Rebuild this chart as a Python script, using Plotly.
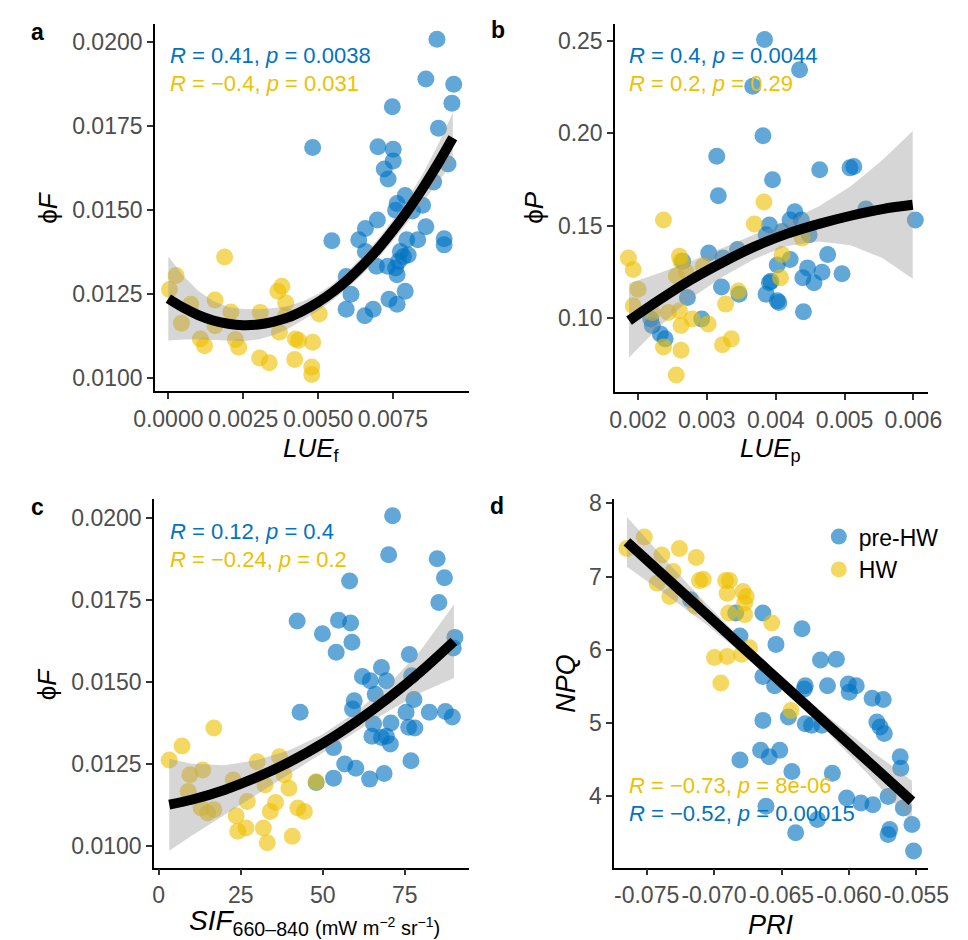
import plotly.graph_objects as go

BLUE = "#0073C2"
YELLOW = "#EFC000"
FONT = "Liberation Sans"
W, H = 968, 940

# ---------------- panel a : LUEf vs phiF ----------------
a_pre_x = [0.00897, 0.00860, 0.00953, 0.00947, 0.00748, 0.00902, 0.00482, 0.00700, 0.00751, 0.00751,
           0.00721, 0.00734, 0.00934, 0.00886, 0.00791, 0.00764, 0.00759, 0.00849, 0.00815, 0.00698,
           0.00658, 0.00636, 0.00546, 0.00860, 0.00921, 0.00921, 0.00833, 0.00796, 0.00658, 0.00775,
           0.00785, 0.00801, 0.00769, 0.00732, 0.00695, 0.00759, 0.00764, 0.00594, 0.00791, 0.00737,
           0.00764, 0.00610, 0.00594, 0.00684, 0.00656]
a_pre_y = [0.02007, 0.01889, 0.01873, 0.01817, 0.01806, 0.01742, 0.01685, 0.01687, 0.01680, 0.01645,
           0.01621, 0.01591, 0.01636, 0.01582, 0.01542, 0.01518, 0.01498, 0.01513, 0.01496, 0.01469,
           0.01444, 0.01410, 0.01407, 0.01449, 0.01413, 0.01395, 0.01410, 0.01410, 0.01375, 0.01375,
           0.01360, 0.01365, 0.01346, 0.01331, 0.01331, 0.01326, 0.01306, 0.01301, 0.01257, 0.01233,
           0.01218, 0.01248, 0.01203, 0.01203, 0.01184]
a_hw_x = [0.00188, 0.00026, 0.00004, 0.00075, 0.00156, 0.00044, 0.00209, 0.00156, 0.00107, 0.00121,
          0.00224, 0.00235, 0.00307, 0.00379, 0.00366, 0.00392, 0.00392, 0.00371, 0.00424, 0.00435,
          0.00482, 0.00305, 0.00337, 0.00422, 0.00479, 0.00479, 0.00504]
a_hw_y = [0.01359, 0.01304, 0.01262, 0.01218, 0.01231, 0.01162, 0.01195, 0.01154, 0.01115, 0.01095,
          0.01113, 0.01090, 0.01194, 0.01272, 0.01257, 0.01223, 0.01184, 0.01135, 0.01115, 0.01110,
          0.01105, 0.01058, 0.01044, 0.01054, 0.01031, 0.01009, 0.01189]
a_fit_x = [0.0000, 0.0005, 0.0010, 0.0015, 0.0020, 0.0025, 0.0030, 0.0035, 0.0040, 0.0045,
           0.0050, 0.0055, 0.0060, 0.0065, 0.0070, 0.0075, 0.0080, 0.0085, 0.0090, 0.0095]
a_fit_y = [0.01235, 0.01208, 0.01186, 0.01170, 0.01160, 0.01156, 0.01158, 0.01166, 0.01179, 0.01199,
           0.01224, 0.01255, 0.01292, 0.01335, 0.01383, 0.01438, 0.01498, 0.01564, 0.01636, 0.01714]
a_fit_se = [0.00125, 0.00095, 0.00072, 0.00058, 0.00050, 0.00048, 0.00045, 0.00040, 0.00034, 0.00028,
            0.00025, 0.00024, 0.00025, 0.00027, 0.00029, 0.00031, 0.00035, 0.00043, 0.00056, 0.00074]

# ---------------- panel b : LUEp vs phiP ----------------
b_pre_x = [0.003838, 0.004347, 0.003667, 0.003815, 0.003144, 0.003167, 0.004639, 0.005079, 0.005134, 0.003954,
           0.005310, 0.006028, 0.004278, 0.004209, 0.004371, 0.003908, 0.003861, 0.004093, 0.004486, 0.003028,
           0.003445, 0.003236, 0.004209, 0.004023, 0.004755, 0.004463, 0.004394, 0.004672, 0.004556, 0.004963,
           0.003931, 0.003908, 0.003861, 0.004023, 0.004046, 0.004403, 0.003213, 0.003468, 0.002648, 0.002718,
           0.002926, 0.002185, 0.002208, 0.002324, 0.002394]
b_pre_y = [0.2507, 0.2343, 0.2254, 0.1986, 0.1875, 0.1661, 0.1802, 0.1812, 0.1820, 0.1748,
           0.1589, 0.1530, 0.1575, 0.1530, 0.1530, 0.1503, 0.1450, 0.1468, 0.1450, 0.1352,
           0.1370, 0.1325, 0.1316, 0.1287, 0.1343, 0.1271, 0.1218, 0.1248, 0.1191, 0.1239,
           0.1199, 0.1191, 0.1129, 0.1093, 0.1084, 0.1034, 0.1168, 0.1129, 0.1307, 0.1111,
           0.0994, 0.0994, 0.0959, 0.0914, 0.0887]
b_hw_x = [0.002370, 0.001861, 0.001931, 0.002000, 0.001931, 0.002602, 0.002625, 0.002556, 0.002949, 0.002440,
          0.002602, 0.002625, 0.002787, 0.003019, 0.002370, 0.002625, 0.002556, 0.003227, 0.003357, 0.003273,
          0.003458, 0.003690, 0.003829, 0.004384, 0.004093, 0.004070, 0.002208, 0.002700]
b_hw_y = [0.1530, 0.1325, 0.1262, 0.1155, 0.1066, 0.1334, 0.1307, 0.1227, 0.1280, 0.1030,
          0.1039, 0.0959, 0.0994, 0.0968, 0.0843, 0.0825, 0.0691, 0.0855, 0.0887, 0.1075,
          0.1146, 0.1509, 0.1628, 0.1432, 0.1343, 0.1218, 0.1030, 0.1250]
b_fit_x = [0.00187, 0.00231, 0.00277, 0.00324, 0.00370, 0.00416, 0.00463, 0.00509, 0.00555, 0.00599]
b_fit_y = [0.0986, 0.1098, 0.1207, 0.1303, 0.1387, 0.1455, 0.1509, 0.1553, 0.1589, 0.1612]
b_fit_se = [0.0200, 0.0145, 0.0100, 0.0077, 0.0066, 0.0065, 0.0095, 0.0160, 0.0265, 0.0400]

# ---------------- panel c : SIF vs phiF ----------------
c_pre_x = [71.3, 70.1, 84.9, 87.1, 85.4, 58.2, 42.2, 54.8, 58.5, 49.9,
           54.1, 58.9, 90.3, 89.8, 76.4, 67.9, 62.1, 64.5, 69.4, 77.1,
           59.6, 59.1, 66.0, 43.1, 77.8, 75.4, 82.5, 87.4, 89.5, 70.8,
           65.5, 76.2, 78.1, 65.0, 67.9, 69.4, 70.6, 53.3, 76.9, 56.7,
           60.1, 53.3, 64.3, 68.7, 48.0]
c_pre_y = [0.02007, 0.01888, 0.01876, 0.01818, 0.01742, 0.01808, 0.01686, 0.01688, 0.01680, 0.01647,
           0.01591, 0.01621, 0.01636, 0.01604, 0.01584, 0.01544, 0.01517, 0.01504, 0.01504, 0.01519,
           0.01443, 0.01418, 0.01463, 0.01408, 0.01447, 0.01408, 0.01408, 0.01410, 0.01393, 0.01375,
           0.01372, 0.01362, 0.01360, 0.01335, 0.01331, 0.01335, 0.01311, 0.01300, 0.01260, 0.01250,
           0.01237, 0.01207, 0.01204, 0.01221, 0.01194]
c_hw_x = [3.2, 7.1, 9.5, 13.4, 9.0, 12.9, 14.9, 16.8, 16.8, 22.7,
          23.6, 24.1, 26.6, 27.0, 30.0, 32.4, 31.9, 33.1, 34.0, 35.6,
          36.8, 38.2, 39.7, 40.7, 42.4, 44.4, 48.0]
c_hw_y = [0.01262, 0.01305, 0.01217, 0.01232, 0.01166, 0.01116, 0.01101, 0.01111, 0.01360, 0.01201,
          0.01092, 0.01045, 0.01055, 0.01136, 0.01257, 0.01186, 0.01055, 0.01010, 0.01105, 0.01133,
          0.01272, 0.01217, 0.01176, 0.01030, 0.01116, 0.01105, 0.01196]
c_fit_x = [3.2, 10, 20, 30, 40, 50, 60, 70, 80, 90]
c_fit_y = [0.01126, 0.01141, 0.01171, 0.01210, 0.01257, 0.01313, 0.01378, 0.01451, 0.01533, 0.01624]
c_fit_se = [0.00140, 0.00110, 0.00075, 0.00052, 0.00036, 0.00028, 0.00030, 0.00040, 0.00065, 0.00112]

# ---------------- panel d : PRI vs NPQ ----------------
d_pre_x = [-0.06348, -0.06541, -0.06211, -0.06093, -0.06324, -0.06159, -0.06005, -0.05998, -0.05946, -0.05828,
           -0.05746, -0.05793, -0.05769, -0.05738, -0.05620, -0.05616, -0.05710, -0.05597, -0.05533, -0.05698,
           -0.05710, -0.05521, -0.06017, -0.05911, -0.05823, -0.06123, -0.06423, -0.06513, -0.06591, -0.06234,
           -0.06395, -0.06638, -0.06324, -0.06277, -0.06638, -0.06638, -0.06551, -0.06331, -0.06449, -0.06201,
           -0.06808, -0.06655, -0.06615, -0.07174, -0.06839, -0.06808]
d_pre_y = [6.286, 6.074, 5.862, 5.871, 5.511, 5.511, 5.533, 5.421, 5.511, 5.339,
           5.321, 5.015, 4.947, 4.857, 4.541, 4.383, 4.000, 3.842, 3.617, 3.549,
           3.481, 3.256, 3.977, 3.910, 3.887, 4.316, 4.338, 4.631, 4.541, 3.684,
           3.504, 5.037, 4.992, 4.970, 6.503, 5.637, 5.511, 5.466, 5.082, 4.970,
           4.496, 4.631, 3.865, 6.683, 6.503, 6.187]
d_hw_x = [-0.07646, -0.07517, -0.07387, -0.07257, -0.07132, -0.07422, -0.07328, -0.07304, -0.07108, -0.07080,
          -0.07139, -0.06914, -0.06886, -0.06903, -0.06785, -0.06761, -0.06891, -0.06773, -0.06572, -0.06997,
          -0.06903, -0.06796, -0.06950, -0.06737, -0.06430, -0.06773]
d_hw_y = [7.382, 7.540, 7.292, 7.382, 7.260, 6.909, 6.728, 7.067, 6.945, 6.963,
          6.593, 6.945, 6.945, 6.773, 6.796, 6.728, 6.503, 6.480, 6.367, 5.894,
          5.908, 5.939, 5.547, 6.029, 5.172, 6.638]
d_fit_x = [-0.07646, -0.0735, -0.0705, -0.0675, -0.0645, -0.0615, -0.0585, -0.05533]
d_fit_y = [7.472, 6.976, 6.474, 5.971, 5.469, 4.966, 4.464, 3.933]
d_fit_se = [0.34, 0.23, 0.14, 0.085, 0.075, 0.11, 0.18, 0.28]

# tick labels
a_xticks = [0.0, 0.0025, 0.005, 0.0075]; a_xtext = ["0.0000", "0.0025", "0.0050", "0.0075"]
a_yticks = [0.01, 0.0125, 0.015, 0.0175, 0.02]; a_ytext = ["0.0100", "0.0125", "0.0150", "0.0175", "0.0200"]
b_xticks = [0.002, 0.003, 0.004, 0.005, 0.006]; b_xtext = ["0.002", "0.003", "0.004", "0.005", "0.006"]
b_yticks = [0.10, 0.15, 0.20, 0.25]; b_ytext = ["0.10", "0.15", "0.20", "0.25"]
c_xticks = [0, 25, 50, 75]; c_xtext = ["0", "25", "50", "75"]
c_yticks = a_yticks; c_ytext = a_ytext
d_xticks = [-0.075, -0.070, -0.065, -0.060, -0.055]; d_xtext = ["-0.075", "-0.070", "-0.065", "-0.060", "-0.055"]
d_yticks = [4, 5, 6, 7, 8]; d_ytext = ["4", "5", "6", "7", "8"]

fig = go.Figure()


def add_panel(k, px, py, hx, hy, fx, fy, fse, legend=False):
    xa = "x" if k == 1 else f"x{k}"
    ya = "y" if k == 1 else f"y{k}"
    mk = dict(size=17, opacity=0.62, line=dict(width=0))
    fig.add_trace(go.Scatter(x=px, y=py, mode="markers", name="pre-HW",
                             marker=dict(color=BLUE, **mk), xaxis=xa, yaxis=ya,
                             showlegend=legend, legendrank=1))
    fig.add_trace(go.Scatter(x=hx, y=hy, mode="markers", name="HW",
                             marker=dict(color=YELLOW, **mk), xaxis=xa, yaxis=ya,
                             showlegend=legend, legendrank=2))
    hi = [y + s for y, s in zip(fy, fse)]
    lo = [y - s for y, s in zip(fy, fse)]
    fig.add_trace(go.Scatter(x=list(fx) + list(fx[::-1]), y=hi + lo[::-1], mode="lines",
                             fill="toself", fillcolor="rgba(153,153,153,0.4)",
                             line=dict(width=0), hoverinfo="skip", showlegend=False,
                             xaxis=xa, yaxis=ya))
    fig.add_trace(go.Scatter(x=fx, y=fy, mode="lines",
                             line=dict(color="black", width=10, shape="spline"),
                             showlegend=False, xaxis=xa, yaxis=ya))


add_panel(1, a_pre_x, a_pre_y, a_hw_x, a_hw_y, a_fit_x, a_fit_y, a_fit_se)
add_panel(2, b_pre_x, b_pre_y, b_hw_x, b_hw_y, b_fit_x, b_fit_y, b_fit_se)
add_panel(3, c_pre_x, c_pre_y, c_hw_x, c_hw_y, c_fit_x, c_fit_y, c_fit_se)
add_panel(4, d_pre_x, d_pre_y, d_hw_x, d_hw_y, d_fit_x, d_fit_y, d_fit_se, legend=True)


def px2x(p):
    return p / W


def px2y(p):
    return 1 - p / H


TICKSIZE = 23


def common():
    return dict(showline=True, linecolor="black", linewidth=1.6, ticks="outside", ticklen=6,
                tickwidth=1.5, tickcolor="#333333", showgrid=False, zeroline=False,
                tickangle=0, ticklabeloverflow="allow",
                tickfont=dict(size=TICKSIZE, color="#4D4D4D", family=FONT), tickmode="array")


axes = {
    1: dict(xd=(140, 468), yd=(386, 15), xr=[-0.000447, 0.01003], yr=[0.00959, 0.02053],
            xt=(a_xticks, a_xtext), yt=(a_yticks, a_ytext)),
    2: dict(xd=(621, 948), yd=(387, 15), xr=[0.001667, 0.00621], yr=[0.0598, 0.2591],
            xt=(b_xticks, b_xtext), yt=(b_yticks, b_ytext)),
    3: dict(xd=(139, 468), yd=(867, 495), xr=[-1.46, 94.5], yr=[0.00934, 0.02057],
            xt=(c_xticks, c_xtext), yt=(c_yticks, c_ytext)),
    4: dict(xd=(620, 948), yd=(867, 495), xr=[-0.07741, -0.05415], yr=[3.027, 8.054],
            xt=(d_xticks, d_xtext), yt=(d_yticks, d_ytext)),
}
lay = {}
for k, a in axes.items():
    sx = "xaxis" if k == 1 else f"xaxis{k}"
    sy = "yaxis" if k == 1 else f"yaxis{k}"
    ya = "y" if k == 1 else f"y{k}"
    xa = "x" if k == 1 else f"x{k}"
    lay[sx] = dict(domain=[px2x(a["xd"][0]), px2x(a["xd"][1])], range=a["xr"], anchor=ya,
                   tickvals=a["xt"][0], ticktext=a["xt"][1], **common())
    lay[sy] = dict(domain=[px2y(a["yd"][0]), px2y(a["yd"][1])], range=a["yr"], anchor=xa,
                   tickvals=a["yt"][0], ticktext=a["yt"][1], **common())

ann = []


def txt(x, y, s, size=20, color="black", xanchor="left", angle=0):
    ann.append(dict(x=px2x(x), y=px2y(y), xref="paper", yref="paper", text=s, showarrow=False,
                    xanchor=xanchor, yanchor="middle", textangle=angle,
                    font=dict(size=size, color=color, family=FONT)))


# panel tags
for lab, x, y in [("a", 17, 23), ("b", 499, 21), ("c", 17, 503), ("d", 498, 502)]:
    txt(x, y, f"<b>{lab}</b>", size=23, xanchor="center")

# correlation labels
RS = 22
txt(154, 47, "<i>R</i> = 0.41, <i>p</i> = 0.0038", RS, BLUE)
txt(154, 75, "<i>R</i> = −0.4, <i>p</i> = 0.031", RS, YELLOW)
txt(634, 47, "<i>R</i> = 0.4, <i>p</i> = 0.0044", RS, BLUE)
txt(634, 75, "<i>R</i> = 0.2, <i>p</i> = 0.29", RS, YELLOW)
txt(154, 528, "<i>R</i> = 0.12, <i>p</i> = 0.4", RS, BLUE)
txt(154, 556, "<i>R</i> = −0.24, <i>p</i> = 0.2", RS, YELLOW)
txt(634, 784, "<i>R</i> = −0.73, <i>p</i> = 8e-06", RS, YELLOW)
txt(634, 812, "<i>R</i> = −0.52, <i>p</i> = 0.00015", RS, BLUE)

# axis titles
txt(304, 445, "<i>LUE</i><sub>f</sub>", 26, xanchor="center")
txt(784, 445, "<i>LUE</i><sub>p</sub>", 26, xanchor="center")
txt(174, 922, "<i>SIF</i><sub>660–840</sub>", 28)
txt(305, 926, "(mW m<sup>−2</sup> sr<sup>−1</sup>)", 20)
txt(784, 925, "<i>PRI</i>", 27, xanchor="center")
txt(28, 200, "ϕ<i>F</i>", 26, xanchor="center", angle=-90)
txt(536, 200, "ϕ<i>P</i>", 26, xanchor="center", angle=-90)
txt(28, 681, "ϕ<i>F</i>", 26, xanchor="center", angle=-90)
txt(570, 681, "<i>NPQ</i>", 27, xanchor="center", angle=-90)

fig.update_layout(
    width=W, height=H, margin=dict(l=0, r=0, t=0, b=0),
    paper_bgcolor="white", plot_bgcolor="white",
    font=dict(family=FONT, color="black", size=20),
    annotations=ann,
    legend=dict(x=px2x(834), y=px2y(511), xanchor="left", yanchor="top",
                font=dict(size=23, color="black", family=FONT), bgcolor="rgba(0,0,0,0)",
                itemsizing="trace", tracegroupgap=0),
    **lay,
)

fig.write_html("out.html")
